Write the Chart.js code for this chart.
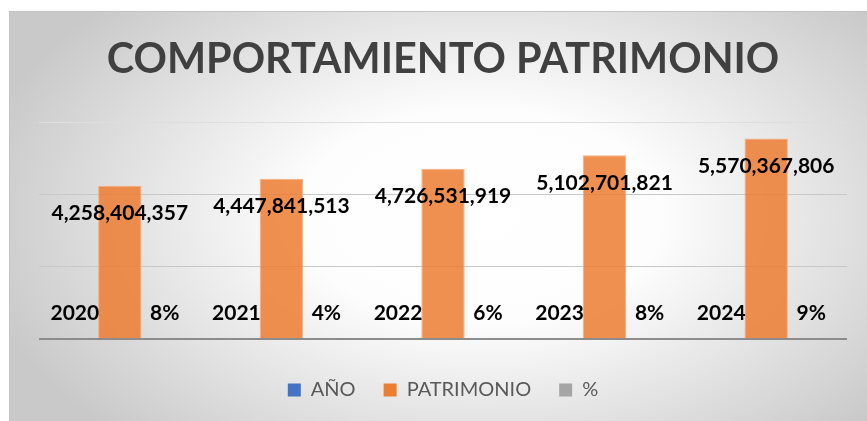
<!DOCTYPE html>
<html>
<head>
<meta charset="utf-8">
<script src="https://cdn.jsdelivr.net/npm/chart.js@4/dist/chart.umd.min.js"></script>
<style>
    body { margin: 0; background: #ffffff; }
    #wrap {
        position: absolute;
        left: 9px;
        top: 11px;
        width: 858px;
        height: 410px;
        background: radial-gradient(ellipse 60% 75% at 55% 50%, #ffffff 0%, #fdfdfd 35%, #c9c9c9 100%);
        box-shadow: inset 1px 1px 0 #c4c4c4;
    }
</style>
</head>
<body>
<div id="wrap"><canvas id="chart" width="858" height="410"></canvas></div>
<script>
// Data
const years = ['2020', '2021', '2022', '2023', '2024'];
const yearValues = [2020, 2021, 2022, 2023, 2024];
const patrimonio = [4258404357, 4447841513, 4726531919, 5102701821, 5570367806];
const percents = [8, 4, 6, 8, 9];
const yMax = 6000000000;
const yStep = 2000000000;

const seriesColors = ['#4472C4', '#ED7D31', '#A5A5A5'];

function formatNumber(n) {
    return n.toLocaleString('en-US');
}

// Value labels: year left of the bar, percent right of it, amount near the top
const valueLabels = {
    id: 'valueLabels',
    afterDatasetsDraw(chart) {
        const ctx = chart.ctx;
        const zeroY = chart.scales.y.getPixelForValue(0);
        ctx.save();
        ctx.font = 'bold 21px Lato';
        ctx.fillStyle = '#000000';
        ctx.textAlign = 'center';
        ctx.textBaseline = 'middle';

        chart.getDatasetMeta(0).data.forEach(function(bar, i) {
            ctx.fillText(years[i], bar.x, zeroY - 26);
        });
        chart.getDatasetMeta(1).data.forEach(function(bar, i) {
            ctx.fillText(formatNumber(patrimonio[i]), bar.x, bar.y + 27.5);
        });
        chart.getDatasetMeta(2).data.forEach(function(bar, i) {
            ctx.fillText(percents[i] + '%', bar.x, zeroY - 26);
        });
        ctx.restore();
    }
};

new Chart(document.getElementById('chart'), {
    type: 'bar',
    data: {
        labels: years,
        datasets: [{
            // year values are far too small on this axis to be seen
            label: 'AÑO',
            data: yearValues,
            backgroundColor: 'rgba(0,0,0,0)',
            borderWidth: 0
        }, {
            label: 'PATRIMONIO',
            data: patrimonio,
            backgroundColor: 'rgba(237, 125, 49, 0.85)',
            borderColor: '#F4B183',
            borderWidth: 1
        }, {
            label: '%',
            data: percents,
            backgroundColor: 'rgba(0,0,0,0)',
            borderWidth: 0
        }]
    },
    options: {
        responsive: false,
        animation: false,
        categoryPercentage: 0.835,
        barPercentage: 0.965,
        layout: {
            padding: { left: 30, right: 20, top: 0, bottom: 11 }
        },
        plugins: {
            title: {
                display: true,
                text: 'COMPORTAMIENTO PATRIMONIO',
                color: '#404040',
                font: { family: 'Lato', weight: 'bold', size: 41.4 },
                padding: { top: 24.2, bottom: 38.1 }
            },
            legend: {
                position: 'bottom',
                labels: {
                    color: '#595959',
                    font: { family: 'Lato', size: 20 },
                    boxWidth: 13,
                    boxHeight: 13,
                    padding: 28,
                    generateLabels: function(chart) {
                        const items = Chart.defaults.plugins.legend.labels.generateLabels(chart);
                        items.forEach(function(item, i) {
                            item.fillStyle = seriesColors[i];
                            item.strokeStyle = seriesColors[i];
                            item.lineWidth = 0;
                        });
                        return items;
                    }
                }
            },
            tooltip: { enabled: false }
        },
        scales: {
            x: {
                display: true,
                grid: { display: false, drawTicks: true, tickLength: 13 },
                ticks: { display: false },
                border: { display: false }
            },
            y: {
                min: 0,
                max: yMax,
                ticks: { display: false, stepSize: yStep },
                border: { display: false },
                grid: {
                    drawTicks: false,
                    color: function(c) {
                        if (c.tick.value === 0) return '#8c8c8c';
                        if (c.tick.value === yMax) return '#dedede';
                        return '#c8c8c8';
                    },
                    lineWidth: function(c) {
                        return c.tick.value === 0 ? 2 : 1;
                    }
                }
            }
        }
    },
    plugins: [valueLabels]
});
</script>
</body>
</html>
